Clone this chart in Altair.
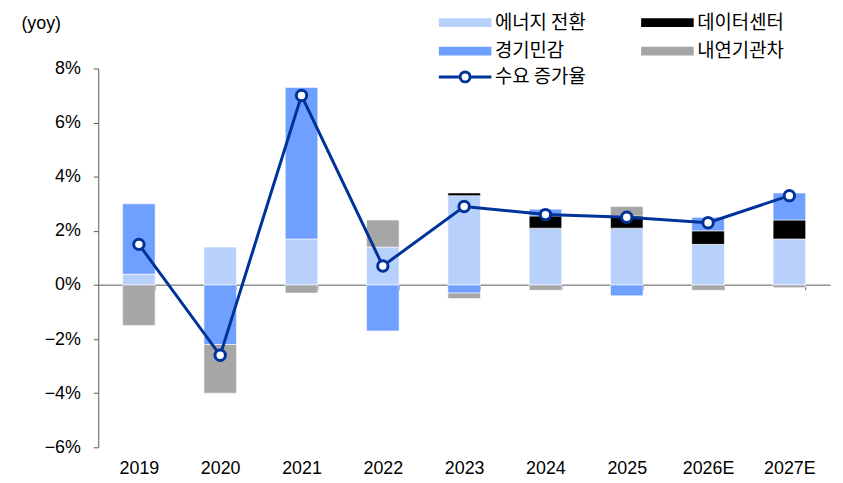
import altair as alt
import pandas as pd

years = ["2019", "2020", "2021", "2022", "2023", "2024", "2025", "2026E", "2027E"]
energy = [0.4, 1.4, 1.7, 1.4, 3.3, 2.1, 2.1, 1.5, 1.7]
datacenter = [0.0, 0.0, 0.0, 0.0, 0.1, 0.45, 0.45, 0.5, 0.7]
cyclical = [2.6, -2.2, 5.6, -1.7, -0.3, 0.25, -0.4, 0.5, 1.0]
ice = [-1.5, -1.8, -0.3, 1.0, -0.2, -0.2, 0.35, -0.2, -0.1]
demand = [1.5, -2.6, 7.0, 0.7, 2.9, 2.6, 2.5, 2.3, 3.3]

series_names = ["에너지 전환", "데이터센터", "경기민감", "내연기관차"]
series_colors = ["#B8D0FC", "#000000", "#6F9FFF", "#A6A6A6"]
line_name = "수요 증가율"
line_color = "#003399"
y_ticks = [-6, -4, -2, 0, 2, 4, 6, 8]

rows = []
for i, (name, vals) in enumerate(zip(series_names, [energy, datacenter, cyclical, ice])):
    for y, v in zip(years, vals):
        if v != 0:
            rows.append({"year": y, "series": name, "value": v, "ord": i})
bars_df = pd.DataFrame(rows)
line_df = pd.DataFrame({"year": years, "value": demand, "series": [line_name] * len(years)})

KFONT = "Noto Sans CJK KR"
LFONT = "Liberation Sans"

rect_path = "M-1,-0.9L9.6,-0.9L9.6,0.9L-1,0.9Z"
line_path = "M-1,0L3.3,0M5.3,0L9.6,0M5.3,0A1,1 0 1,1 3.3,0A1,1 0 1,1 5.3,0Z"

x_enc = alt.X(
    "year:N",
    sort=years,
    scale=alt.Scale(paddingInner=0.6, paddingOuter=0.3),
    axis=alt.Axis(
        title=None, offset=-164, tickBand="extent", labelPadding=171, tickSize=5,
        labelAngle=0, domainColor="#595959", tickColor="#595959",
    ),
)
y_scale = alt.Scale(domain=[-6, 8], nice=False)

bars = alt.Chart(bars_df).mark_bar(stroke="white", strokeWidth=0.8, strokeOpacity=0.7).encode(
    x=x_enc,
    y=alt.Y(
        "value:Q",
        stack="zero",
        scale=y_scale,
        axis=alt.Axis(
            values=y_ticks, labelExpr="format(datum.value, 'd') + '%'", tickSize=5,
            labelPadding=13, domainColor="#595959", tickColor="#595959",
            title="(yoy)", titleAngle=0, titleAlign="left", titleBaseline="middle",
            titleX=-78, titleY=-45, titleFont=LFONT, titleFontSize=18,
            titleFontWeight="normal", titleColor="#000",
        ),
    ),
    color=alt.Color(
        "series:N",
        scale=alt.Scale(domain=series_names, range=series_colors),
        legend=alt.Legend(
            title=None, orient="none", direction="horizontal", legendX=339, legendY=-56,
            columns=2, columnPadding=51, rowPadding=9, symbolType=rect_path,
            symbolSize=100, symbolStrokeWidth=0, labelOffset=42, labelFont=KFONT,
            labelFontSize=19, labelColor="#000", padding=0, labelLimit=0,
        ),
    ),
    order=alt.Order("ord:Q"),
)

line = alt.Chart(line_df).mark_line(strokeWidth=3).encode(
    x=alt.X("year:N", sort=years),
    y=alt.Y("value:Q", scale=y_scale),
    stroke=alt.Stroke(
        "series:N",
        scale=alt.Scale(domain=[line_name], range=[line_color]),
        legend=alt.Legend(
            title=None, orient="none", legendX=339, legendY=-1, symbolType=line_path,
            symbolSize=100, symbolStrokeWidth=3, symbolFillColor="white",
            labelOffset=42, labelFont=KFONT, labelFontSize=19, labelColor="#000",
            padding=0, labelLimit=0,
        ),
    ),
)

points = alt.Chart(line_df).mark_point(
    filled=True, fill="white", stroke=line_color, strokeWidth=3, size=110, opacity=1
).encode(
    x=alt.X("year:N", sort=years),
    y=alt.Y("value:Q", scale=y_scale),
)

chart = (
    alt.layer(bars, line, points)
    .properties(
        width=738, height=382,
        padding={"left": 91, "top": 59, "right": 5, "bottom": 33},
        autosize=alt.AutoSizeParams(type="none"),
    )
    .configure_view(stroke=None)
    .configure_axis(labelFont=LFONT, labelFontSize=18, labelColor="#000", grid=False)
)

chart.save("out.html", embed_options={"renderer": "svg", "actions": False})
